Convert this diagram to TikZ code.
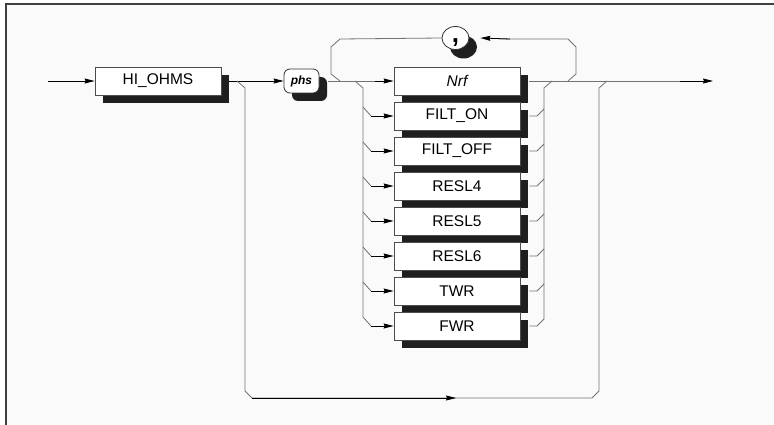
\documentclass[tikz,border=0pt]{standalone}
\usepackage{fontspec}
\setmainfont{Liberation Sans}
\usetikzlibrary{shadows,arrows.meta,shapes.geometric}
\begin{document}
\begin{tikzpicture}[x=1pt,y=-1pt,
  conn/.style={draw=black!55,line width=0.8pt},
  arr/.style={draw=black,line width=0.8pt,-{Stealth[length=10pt,width=5pt,inset=1pt]}},
  shd/.style={drop shadow={shadow xshift=8pt,shadow yshift=-8pt,opacity=1,fill=black!88}},
  kw/.style={rectangle,draw=black!70,fill=white,line width=0.8pt,minimum width=126pt,
    minimum height=28pt,inner sep=0pt,font=\fontsize{15.5}{17}\selectfont,shd},
  term/.style={rectangle,rounded corners=6pt,draw=black!80,fill=white,line width=0.8pt,
    minimum width=35pt,minimum height=24pt,inner sep=0pt,
    font=\bfseries\itshape\fontsize{12}{14}\selectfont,shd},
  sep/.style={ellipse,draw=black!80,fill=white,line width=0.8pt,minimum width=27pt,
    minimum height=23pt,inner sep=0pt,text height=0pt,text depth=0pt,
    font=\bfseries\fontsize{26}{26}\selectfont,
    drop shadow={shadow xshift=8pt,shadow yshift=-9pt,opacity=1,fill=black!88}}
]
\useasboundingbox (0,0) rectangle (774,425);
\fill[black!2] (6,4) rectangle (774,425);
\draw[black!75,line width=1.2pt] (6,425) -- (6,4) -- (774,4);

% nodes
\node[kw] (hi) at (158,81) {HI\_OHMS};
\node[term] (phs) at (301.5,81) {phs};
\node[sep] (comma) at (455.5,38) {\raisebox{-5pt}{,}};
\node[kw,font=\itshape\fontsize{15.5}{17}\selectfont] (nrf) at (457,81) {Nrf};
\node[kw] (fon) at (457,116) {FILT\_ON};
\node[kw] (foff) at (457,151) {FILT\_OFF};
\node[kw] (r4) at (457,186) {RESL4};
\node[kw] (r5) at (457,221) {RESL5};
\node[kw] (r6) at (457,256) {RESL6};
\node[kw] (twr) at (457,291) {TWR};
\node[kw] (fwr) at (457,326) {FWR};

\coordinate (start) at (48,81);
\coordinate (end) at (713,81);

% entry
\draw[arr] (start) -- (hi.west);
% HI_OHMS to phs
\draw[arr] ([xshift=8pt]hi.east) -- (phs.west);
% bypass of everything after HI_OHMS
\draw[conn] (237,81) -- (245,88) -- (245,391) -- (252,398) -- (592,398) -- (599,391) -- (599,88) -- (607,81);
\draw[arr] (252,398) -- (456,398);
% phs to first choice
\draw[conn] ([xshift=9pt]phs.east) -- (380,81);
\draw[arr] (375,81) -- (nrf.west);
% repetition loop through comma
\draw[conn] (340,81) -- (331,74) -- (331,47) -- (340,39) -- (comma.west);
\draw[conn] (568,81) -- (576,74) -- (576,47) -- (568,39) -- (500,39);
\draw[arr] (510,39) -- ([xshift=11pt]comma.east);
% left rail
\draw[conn] (355,81) -- (363,88) -- (363,317);
\foreach \n/\y in {fon/116,foff/151,r4/186,r5/221,r6/256,twr/291,fwr/326}{
  \draw[conn] (363,\y-9) -- (371,\y);
  \draw[arr] (371,\y) -- (\n.west);
}
% right rail
\draw[conn] (544,319) -- (544,88) -- (552,81);
\foreach \n/\y in {fon/116,foff/151,r4/186,r5/221,r6/256,twr/291,fwr/326}{
  \draw[conn] ([xshift=9pt]\n.east) -- (537,\y) -- (544,\y-7);
}
% exit
\draw[conn] ([xshift=9pt]nrf.east) -- (690,81);
\draw[arr] (680,81) -- (end);
\end{tikzpicture}
\end{document}
